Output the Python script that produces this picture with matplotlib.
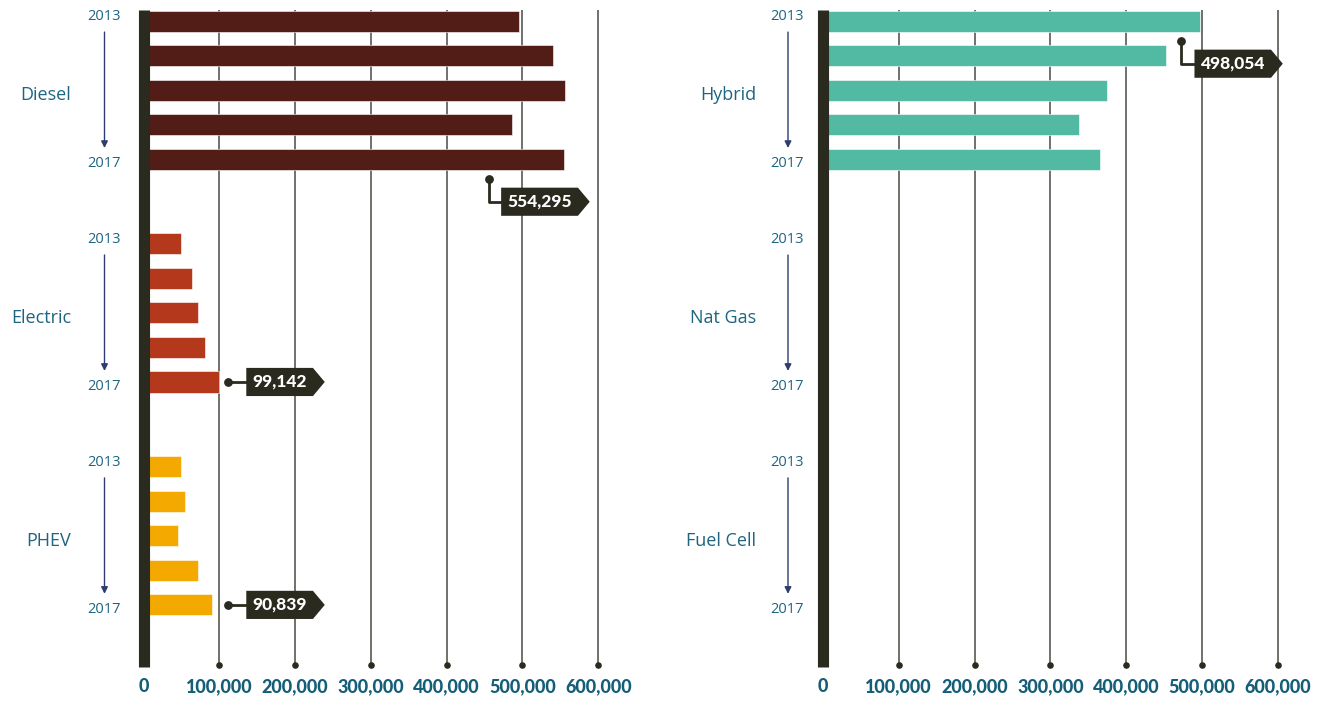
import numpy as np
import matplotlib.pyplot as plt
from matplotlib.path import Path

# data
years = ['2013', '2014', '2015', '2016', '2017']
left_cats = ['Diesel', 'Electric', 'PHEV']
right_cats = ['Hybrid', 'Nat Gas', 'Fuel Cell']

diesel = [495000, 540000, 556000, 486000, 554295]
electric = [50000, 63500, 72500, 81500, 99142]
phev = [49000, 54500, 45500, 72500, 90839]
hybrid = [498054, 452500, 374500, 337500, 365000]
nat_gas = [0, 0, 0, 0, 0]
fuel_cell = [0, 0, 0, 0, 0]

x_ticks = [0, 100000, 200000, 300000, 400000, 500000, 600000]
x_tick_labels = ['0', '100,000', '200,000', '300,000', '400,000', '500,000', '600,000']

left_colors = ['#521d16', '#b4381b', '#f4a900']
right_colors = ['#52b9a3', '#52b9a3', '#52b9a3']

TEAL = '#1d6580'
DARK = '#2b2a1e'
NAVY = '#2f3d6e'

GROUP_STEP = 6.46
YTOP, YBOT = -0.32, 18.72
AX_PX = 485  # axes width in pixels


def tag_box(x0, y0, width, height, mutation_size):
    pad = 0.35 * mutation_size
    x0, y0 = x0 - pad, y0 - pad
    x1, y1 = x0 + width + 2 * pad, y0 + height + 2 * pad
    tip = (y1 - y0) * 0.42
    verts = [(x0, y0), (x1, y0), (x1 + tip, (y0 + y1) / 2), (x1, y1), (x0, y1), (x0, y0)]
    return Path(verts, closed=True)


def callout(ax, x_dot, y_dot, text, dx, dy):
    ax.scatter([x_dot], [y_dot], s=28, color=DARK, zorder=5, clip_on=False)
    ax.annotate(text, xy=(x_dot, y_dot), xytext=(dx, dy), textcoords='offset pixels',
                ha='center', va='center', color='white', fontsize=12.5,
                fontfamily='Lato', fontweight='black', zorder=6,
                bbox=dict(boxstyle=tag_box, fc=DARK, ec='none'),
                arrowprops=dict(arrowstyle='-', color=DARK, lw=2,
                                connectionstyle='angle,angleA=0,angleB=90,rad=0',
                                relpos=(0, 0.5), shrinkA=0, shrinkB=0))


def draw_panel(ax, cats, series, colors, label_dx, year_dx):
    ytr = ax.get_yaxis_transform()
    for g, (cat, vals, col) in enumerate(zip(cats, series, colors)):
        ys = g * GROUP_STEP + np.arange(len(years))
        ax.barh(ys, vals, height=0.61, color=col, edgecolor='white', linewidth=0.4, zorder=2)
        yc = g * GROUP_STEP + 2.14
        ax.annotate(cat, xy=(0, yc), xytext=(label_dx, 0), textcoords='offset pixels',
                    ha='right', va='center', fontsize=13, color=TEAL,
                    fontfamily='Open Sans', annotation_clip=False)
        ax.annotate(years[0], xy=(0, ys[0] - 0.12), xytext=(year_dx, 0), textcoords='offset pixels',
                    ha='center', va='center', fontsize=10.5, color=TEAL,
                    fontfamily='Open Sans', annotation_clip=False)
        ax.annotate(years[-1], xy=(0, ys[-1] + 0.12), xytext=(year_dx, 0), textcoords='offset pixels',
                    ha='center', va='center', fontsize=10.5, color=TEAL,
                    fontfamily='Open Sans', annotation_clip=False)
        ax_x = (year_dx + 1) / AX_PX
        ax.annotate('', xy=(ax_x, ys[-1] - 0.32), xytext=(ax_x, ys[0] + 0.32),
                    xycoords=ytr, textcoords=ytr, annotation_clip=False,
                    arrowprops=dict(arrowstyle='-|>,head_length=0.4,head_width=0.2',
                                    color=NAVY, lw=1, shrinkA=0, shrinkB=0))
    # grid lines with dots at the bottom
    ax.vlines(x_ticks[1:], YTOP, 18.62, color='#4a4a42', lw=1.1, zorder=1)
    ax.scatter(x_ticks[1:], [18.67] * (len(x_ticks) - 1), s=14, color=DARK, zorder=3, clip_on=False)

    ax.set_xlim(0, 640000)
    ax.set_ylim(YBOT, YTOP)
    ax.set_yticks([])
    ax.set_xticks(x_ticks)
    ax.set_xticklabels(x_tick_labels, fontsize=13, fontfamily='Lato', fontweight='black', color='#145e78')
    ax.tick_params(axis='x', length=0, pad=8)
    for s in ['top', 'right', 'bottom']:
        ax.spines[s].set_visible(False)
    ax.spines['left'].set_linewidth(8)
    ax.spines['left'].set_color(DARK)
    ax.spines['left'].set_capstyle('butt')
    ax.spines['left'].set_zorder(4)


fig = plt.figure(figsize=(13.3, 7.03), dpi=100)
W, H = 1330, 703
width = AX_PX / W
bottom = (H - 667) / H
height = 657 / H
ax1 = fig.add_axes([143.5 / W, bottom, width, height])
ax2 = fig.add_axes([823 / W, bottom, width, height])

draw_panel(ax1, left_cats, [diesel, electric, phev], left_colors, -72, -40)
draw_panel(ax2, right_cats, [hybrid, nat_gas, fuel_cell], right_colors, -67, -36)

callout(ax1, diesel[-1] - 99000, 4.57, f'{diesel[-1]:,}', 51, -23)
callout(ax1, 111000, GROUP_STEP + 4, f'{electric[-1]:,}', 52, 0)
callout(ax1, 111000, 2 * GROUP_STEP + 4, f'{phev[-1]:,}', 52, 0)
callout(ax2, hybrid[0] - 26000, 0.57, f'{hybrid[0]:,}', 52, -23)

plt.savefig('out.png', dpi=100)
